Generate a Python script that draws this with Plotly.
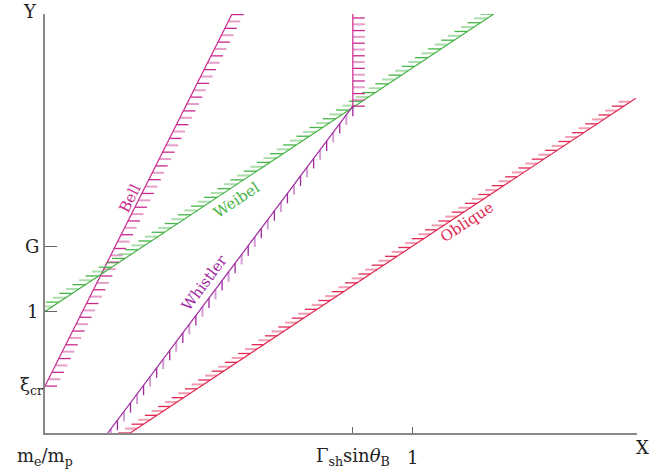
import numpy as np
import plotly.graph_objects as go

# ---- schematic data (arbitrary units: x 0..100, y 0..100) ----
x_tick_vals = [0.0, 52.0, 62.0]
x_tick_text = ["m<sub>e</sub>/m<sub>p</sub>", "Γ<sub>sh</sub>sin<i>θ</i><sub>B</sub>", "1"]
y_tick_vals = [11.2, 29.0, 44.5]
y_tick_text = ["ξ<sub>cr</sub>", "1", "G"]

bell_x = [0.0, 31.6]
bell_y = [11.2, 100.0]
weibel_x = [0.0, 75.8]
weibel_y = [29.0, 100.0]
whistler_x = [10.6, 52.0]
whistler_y = [0.0, 78.0]
vertical_x = [52.0, 52.0]
vertical_y = [78.0, 100.0]
oblique_x = [14.4, 99.8]
oblique_y = [0.0, 79.9]

labels = ["Bell", "Weibel", "Whistler", "Oblique"]
label_x = [14.4, 32.4, 26.9, 71.3]
label_y = [56.1, 55.6, 35.8, 50.4]

# ---- layout geometry ----
W, H = 672, 472
ML, MR, MT, MB = 45, 35, 14, 39
PW, PH = W - ML - MR, H - MT - MB
XR, YR = [0, 100], [0, 100]
sx = PW / (XR[1] - XR[0])  # px per unit
sy = PH / (YR[1] - YR[0])

BELL = "rgb(200,40,140)"
WHIS = "rgb(160,40,160)"
WEIB = "rgb(70,180,70)"
OBLQ = "rgb(225,40,80)"


def rgba(c, a):
    return c.replace("rgb(", "rgba(").replace(")", f",{a})")


def hatches(xs, ys, spacing_px, length_px, direction, start="low"):
    """Build hatch segments along a line (in pixel space)."""
    x0, x1 = xs[0] * sx, xs[1] * sx
    y0, y1 = ys[0] * sy, ys[1] * sy
    L = np.hypot(x1 - x0, y1 - y0)
    n = int(L // spacing_px) + 1
    ts = np.arange(n) * spacing_px / L
    if start == "high":
        ts = 1 - ts
    dx, dy = {"right": (1, 0), "left": (-1, 0), "down": (0, -1)}[direction]
    segs = [[], []]
    for i, t in enumerate(ts):
        px = x0 + t * (x1 - x0)
        py = y0 + t * (y1 - y0)
        segs[i % 2].append((px / sx, py / sy, (px + dx * length_px) / sx, (py + dy * length_px) / sy))
    out = []
    for k in range(2):
        hx, hy = [], []
        for a, b, c, d in segs[k]:
            hx += [a, c, None]
            hy += [b, d, None]
        out.append((hx, hy))
    return out


fig = go.Figure()


def add_line(xs, ys, color, spacing, length, direction, start):
    (dx_, dy_), (lx_, ly_) = hatches(xs, ys, spacing, length, direction, start)
    fig.add_trace(go.Scatter(x=lx_, y=ly_, mode="lines",
                             line=dict(color=rgba(color, 0.45), width=2.0),
                             hoverinfo="skip", showlegend=False))
    fig.add_trace(go.Scatter(x=dx_, y=dy_, mode="lines",
                             line=dict(color=color, width=1.3),
                             hoverinfo="skip", showlegend=False))
    fig.add_trace(go.Scatter(x=xs, y=ys, mode="lines",
                             line=dict(color=color, width=1.2),
                             hoverinfo="skip", showlegend=False))


add_line(bell_x, bell_y, BELL, 7.7, 12, "right", "low")
add_line(weibel_x, weibel_y, WEIB, 7.9, 13, "left", "high")
add_line(oblique_x, oblique_y, OBLQ, 8.0, 12, "left", "low")
add_line(whistler_x, whistler_y, WHIS, 10.9, 10, "down", "high")
add_line(vertical_x, vertical_y, BELL, 6.3, 12, "right", "low")

serif = "DejaVu Serif"
ann = []
label_colors = [BELL, WEIB, WHIS, OBLQ]
angles = []
for (xs, ys) in [(bell_x, bell_y), (weibel_x, weibel_y), (whistler_x, whistler_y), (oblique_x, oblique_y)]:
    angles.append(-np.degrees(np.arctan2((ys[1] - ys[0]) * sy, (xs[1] - xs[0]) * sx)))
for t, x, y, c, a in zip(labels, label_x, label_y, label_colors, angles):
    ann.append(dict(x=x, y=y, text=t, showarrow=False, textangle=a,
                    font=dict(family=serif, size=15, color=c),
                    xanchor="center", yanchor="middle"))

for v, t in zip(x_tick_vals, x_tick_text):
    ann.append(dict(x=v, y=0, text=t, showarrow=False, yshift=-24,
                    font=dict(family=serif, size=18, color="#222"),
                    xanchor="center", yanchor="middle"))
for v, t in zip(y_tick_vals, y_tick_text):
    ann.append(dict(x=0, y=v, text=t, showarrow=False, xshift=-13,
                    font=dict(family=serif, size=18, color="#222"),
                    xanchor="center", yanchor="middle"))
ann.append(dict(x=100, y=0, text="X", showarrow=False, xshift=5, yshift=-14,
                font=dict(family=serif, size=18, color="#222"),
                xanchor="center", yanchor="middle"))
ann.append(dict(x=0, y=100, text="Y", showarrow=False, xshift=-15, yshift=14,
                font=dict(family=serif, size=18, color="#222"),
                xanchor="center", yanchor="top", borderpad=0))

fig.update_layout(
    width=W, height=H,
    margin=dict(l=ML, r=MR, t=MT, b=MB),
    plot_bgcolor="white", paper_bgcolor="white",
    annotations=ann,
    xaxis=dict(range=XR, showgrid=False, zeroline=False, showline=True,
               linecolor="#888", linewidth=2, ticks="inside", ticklen=6,
               tickcolor="#666", tickwidth=1, tickvals=x_tick_vals[1:],
               showticklabels=False, fixedrange=True),
    yaxis=dict(range=YR, showgrid=False, zeroline=False, showline=True,
               linecolor="#888", linewidth=2, ticks="inside", ticklen=12,
               tickcolor="#666", tickwidth=1, tickvals=y_tick_vals[1:],
               showticklabels=False, fixedrange=True),
)

fig.write_html("out.html", config={"displayModeBar": False},
               post_script="document.body.style.margin='0';document.body.style.overflow='hidden';")
